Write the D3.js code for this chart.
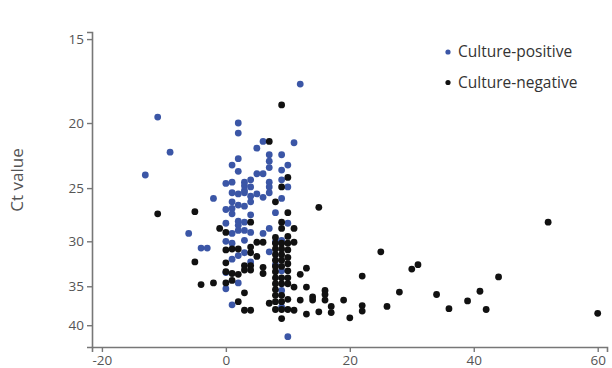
<!DOCTYPE html>
<html>
<head>
<meta charset="utf-8">
<script src="https://d3js.org/d3.v7.min.js"></script>
<style>
    body { margin: 0; background: #fff; }
    text { font-family: "Open Sans", "Noto Sans", sans-serif; }
</style>
</head>
<body>
<div id="chart"></div>
<script>
// culture-positive points: [days, Ct value]
let positive = [
    [-13, 23.9], [-11, 19.6], [-9, 22.1], [-6, 29.2], [-4, 30.7], [-3, 30.7], [-2, 25.9],
    [0, 24.6], [0, 26.9], [0, 28.2], [0, 30.0], [0, 33.4], [0, 35.3],
    [1, 23.1], [1, 24.5], [1, 25.4], [1, 26.2], [1, 26.8], [1, 27.3], [1, 29.2], [1, 30.2], [1, 31.9], [1, 37.3],
    [2, 20.0], [2, 20.7], [2, 22.6], [2, 23.6], [2, 25.5], [2, 26.5], [2, 28.0], [2, 28.4], [2, 28.9], [2, 31.5], [2, 34.6],
    [3, 24.5], [3, 24.8], [3, 25.2], [3, 25.4], [3, 26.6], [3, 28.1], [3, 28.9], [3, 29.9], [3, 31.2],
    [4, 24.3], [4, 24.9], [4, 25.7], [4, 26.2], [4, 27.4], [4, 29.1], [4, 32.2],
    [5, 21.8], [5, 23.8], [5, 25.5],
    [6, 21.3], [6, 23.8], [6, 25.8], [6, 29.2],
    [7, 22.3], [7, 22.8], [7, 23.3], [7, 24.5], [7, 24.9], [7, 25.4], [7, 28.7], [7, 31.1],
    [8, 27.2], [8, 30.1], [8, 32.5],
    [9, 22.3], [9, 23.5], [9, 24.3], [9, 25.9], [9, 29.9], [9, 33.2], [9, 35.5], [9, 37.6],
    [10, 23.1], [10, 24.9], [10, 28.2], [10, 41.6],
    [11, 21.4],
    [12, 17.5]
];

// culture-negative points: [days, Ct value]
let negative = [
    [-11, 27.3], [-5, 27.1], [-5, 32.2], [-4, 34.8], [-2, 34.6], [-1, 28.7],
    [0, 29.1], [0, 30.9], [0, 32.3], [0, 33.3], [0, 34.6],
    [1, 30.8], [1, 33.5], [1, 34.3],
    [2, 30.8], [2, 33.6], [2, 36.9],
    [3, 32.6], [3, 33.1], [3, 35.8], [3, 38.0],
    [4, 28.1], [4, 30.6], [4, 31.2], [4, 32.6], [4, 33.1], [4, 38.0],
    [5, 30.1], [5, 31.6],
    [6, 30.1], [6, 32.8], [6, 33.5],
    [7, 21.3], [7, 37.1],
    [8, 26.2], [8, 29.6], [8, 30.2], [8, 30.8], [8, 31.4], [8, 32.0], [8, 32.7], [8, 33.3],
    [8, 34.0], [8, 34.7], [8, 35.4], [8, 36.1], [8, 36.9], [8, 37.9],
    [9, 18.8], [9, 24.9], [9, 28.1], [9, 28.7], [9, 30.2], [9, 30.8], [9, 31.4], [9, 32.0],
    [9, 32.7], [9, 34.0], [9, 34.7], [9, 36.1], [9, 36.9], [9, 37.9], [9, 39.1],
    [10, 24.1], [10, 27.2], [10, 29.5], [10, 30.2], [10, 30.9], [10, 31.7], [10, 32.4],
    [10, 33.2], [10, 34.0], [10, 34.7], [10, 36.6], [10, 37.9],
    [11, 28.7], [11, 30.1], [11, 35.1], [11, 38.0],
    [12, 33.6], [12, 36.7],
    [13, 32.9], [13, 35.1], [13, 38.5],
    [14, 36.3], [14, 36.7],
    [15, 26.7], [15, 38.2],
    [16, 35.5], [16, 36.0], [16, 36.7],
    [17, 37.5], [17, 38.3],
    [19, 36.7], [20, 39.0],
    [22, 33.8], [22, 37.4], [22, 38.1],
    [25, 31.1], [26, 37.5], [28, 35.7], [30, 33.0], [31, 32.5],
    [34, 36.0], [36, 37.8], [39, 36.8], [41, 35.6], [42, 37.9], [44, 33.9],
    [52, 28.1], [60, 38.4]
];

let xTicks = [-20, 0, 20, 40, 60];
let yTicks = [15, 20, 25, 30, 35, 40];
let legendLabels = ['Culture-positive', 'Culture-negative'];
let colors = ['#3b56a6', '#111111'];

let svg = d3.select('#chart').append('svg')
    .attr('width', 612)
    .attr('height', 368);

let x = d3.scaleLinear()
    .domain([-21.6, 61.5])
    .range([92, 607]);

let y = d3.scaleLog()
    .domain([14.64, 43.1])
    .range([32, 347]);

let xAxis = d3.axisBottom(x)
    .tickValues(xTicks)
    .tickFormat(d => String(d))
    .tickSizeOuter(0)
    .tickSize(5)
    .tickPadding(3);

let yAxis = d3.axisLeft(y)
    .tickValues(yTicks)
    .tickFormat(d => String(d))
    .tickSizeOuter(0)
    .tickSize(5)
    .tickPadding(3);

let gx = svg.append('g')
    .attr('transform', 'translate(0,347)')
    .call(xAxis);

let gy = svg.append('g')
    .attr('transform', 'translate(92,0)')
    .call(yAxis);

[gx, gy].forEach(g => {
    g.select('.domain').attr('stroke', '#777').attr('stroke-width', 1.6);
    g.selectAll('.tick line').attr('stroke', '#777').attr('stroke-width', 1.4);
    g.selectAll('.tick text')
        .attr('fill', '#555')
        .style('font-size', '13.5px');
});

svg.append('text')
    .attr('transform', 'translate(23,180) rotate(-90)')
    .attr('text-anchor', 'middle')
    .attr('fill', '#555')
    .style('font-size', '17px')
    .text('Ct value');

[positive, negative].forEach((pts, i) => {
    svg.append('g')
        .selectAll('circle')
        .data(pts)
        .enter().append('circle')
        .attr('cx', d => x(d[0]))
        .attr('cy', d => y(d[1]))
        .attr('r', 3.4)
        .style('fill', colors[i]);
});

let legend = svg.append('g');
legendLabels.forEach((label, i) => {
    let ly = 52 + i * 30.5;
    legend.append('circle')
        .attr('cx', 448)
        .attr('cy', ly)
        .attr('r', 2.6)
        .style('fill', colors[i]);
    legend.append('text')
        .attr('x', 458)
        .attr('y', ly)
        .attr('dy', '0.35em')
        .attr('fill', '#333')
        .style('font-size', '15.5px')
        .text(label);
});
</script>
</body>
</html>
